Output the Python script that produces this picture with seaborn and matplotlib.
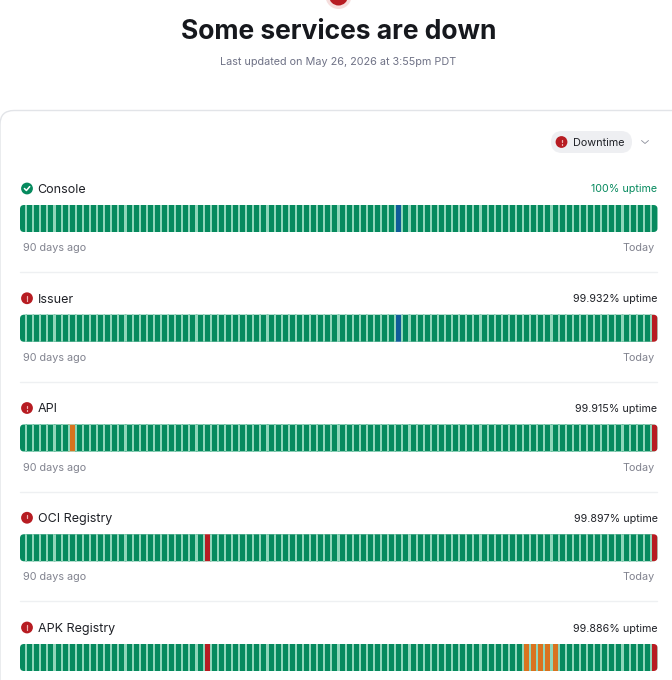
import numpy as np
import matplotlib.pyplot as plt
from matplotlib.colors import ListedColormap
from matplotlib.patches import Circle, FancyBboxPatch
import seaborn as sns

sns.set_theme(style="white")
plt.rcParams['font.family'] = ['Inter', 'DejaVu Sans']

# 0 = up, 1 = degraded, 2 = down, 3 = maintenance
services = ['Console', 'Issuer', 'API', 'OCI Registry', 'APK Registry']
uptime = ['100% uptime', '99.932% uptime', '99.915% uptime', '99.897% uptime', '99.886% uptime']
console_days = [0] * 53 + [3] + [0] * 36
issuer_days = [0] * 53 + [3] + [0] * 35 + [2]
api_days = [0] * 7 + [1] + [0] * 81 + [2]
oci_days = [0] * 26 + [2] + [0] * 62 + [2]
apk_days = [0] * 26 + [2] + [0] * 44 + [1] * 5 + [0] * 13 + [2]
all_days = [console_days, issuer_days, api_days, oci_days, apk_days]
left_label = '90 days ago'
right_label = 'Today'

GREEN = '#068a5e'
RED = '#b71c22'
status_cmap = ListedColormap([GREEN, '#d9731f', RED, '#0f5c99'])

W, H = 672, 680
fig = plt.figure(figsize=(W / 100, H / 100), dpi=100, facecolor='white')

# whole figure axes in pixel units for the page furniture
page = fig.add_axes([0, 0, 1, 1])
page.set_xlim(0, W)
page.set_ylim(H, 0)
page.axis('off')

page.add_patch(Circle((338.5, -4), 13, fc='#f6dedd', ec='none'))
page.add_patch(Circle((338.5, -4), 9.5, fc=RED, ec='none'))
page.text(338.5, 31.7, 'Some services are down', ha='center', va='center',
          fontsize=19.05, fontweight='bold', color='#16181d')
page.text(338.5, 62.3, 'Last updated on May 26, 2026 at 3:55pm PDT', ha='center', va='center',
          fontsize=7.8, color='#6f7286')

page.add_patch(FancyBboxPatch((0, 110.5), W + 40, H, boxstyle='round,pad=0,rounding_size=14',
                              fc='white', ec='#e2e4e8', lw=1))

page.add_patch(FancyBboxPatch((551, 131), 81, 22, boxstyle='round,pad=0,rounding_size=11',
                              fc='#eeeff2', ec='none'))


def status_icon(x, y, ok=False):
    page.add_patch(Circle((x, y), 5.9, fc=GREEN if ok else RED, ec='none'))
    if ok:
        page.plot([x - 2.6, x - 0.6, x + 2.7], [y, y + 2, y - 1.9], color='white', lw=1.1)
    else:
        page.plot([x, x], [y - 2.4, y + 0.4], color='#eeb4b4', lw=0.9)
        page.plot([x, x], [y + 1.8, y + 2.5], color='#eeb4b4', lw=0.9)


status_icon(561.5, 142)
page.text(572.5, 142.5, 'Downtime', va='center', fontsize=7.8, color='#1f2127')
page.plot([641.5, 645, 648.5], [140.5, 143.5, 140.5], color='#8b8e9a', lw=0.6)

for i, (name, pct, days) in enumerate(zip(services, uptime, all_days)):
    top = 205 + 109.75 * i
    status_icon(27, top - 16.5, ok=(pct == '100% uptime'))
    page.text(37.5, top - 15.2, name, va='center', fontsize=9, color='#1f2127')
    page.text(657.5, top - 15.5, pct, va='center', ha='right', fontsize=7.7,
              color=GREEN if pct == '100% uptime' else '#1f2127')
    if i < 4:
        page.text(23, top + 43.2, left_label, va='center', fontsize=7.8, color='#81838f')
        page.text(654.5, top + 43.2, right_label, va='center', ha='right', fontsize=7.8, color='#81838f')
        page.plot([20, 657], [top + 67, top + 67], color='#eef0f2', lw=1)

    # axes a little larger than the bar, so the outer cell edges fall outside the clip
    ax = fig.add_axes([19 / W, 1 - (top + 28) / H, 639 / W, 29 / H])
    sns.heatmap(np.array([days]), ax=ax, cmap=status_cmap, vmin=0, vmax=3, cbar=False,
                linewidths=0.75, linecolor='#8fd6ba', xticklabels=False, yticklabels=False)
    # rounded bar ends
    clip = FancyBboxPatch((20, top), 637.5, 27, boxstyle='round,pad=0,rounding_size=4',
                          transform=page.transData, fc='none', ec='none')
    page.add_patch(clip)
    ax.patch.set_alpha(0)
    ax.collections[0].set_clip_path(clip)
    ax.collections[0].set_snap(False)
    ax.axis('off')

fig.savefig('out.png', dpi=100)
